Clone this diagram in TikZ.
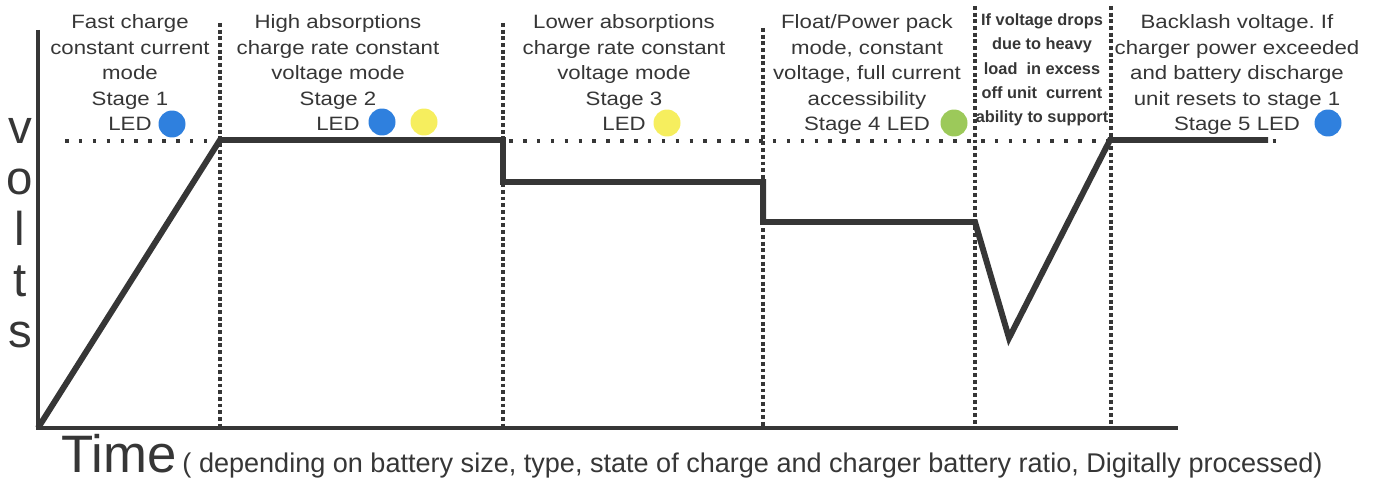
\documentclass[tikz,border=0pt]{standalone}
\usepackage{fontspec}
\setmainfont{Liberation Sans}
\newfontfamily\widefont{Liberation Sans}[FakeStretch=1.15]
\usepackage{tikz}
\usetikzlibrary{positioning}

\definecolor{ink}{HTML}{363636}
\definecolor{ledblue}{HTML}{2F80DE}
\definecolor{ledyellow}{HTML}{F6EE5E}
\definecolor{ledgreen}{HTML}{9CC95A}

\begin{document}
\begin{tikzpicture}[x=0.02cm, y=-0.02cm,
  stagetext/.style={anchor=north, inner sep=0pt, align=center, text=ink, font=\widefont\fontsize{11}{14.6}\selectfont},
  boldtext/.style={anchor=north, inner sep=0pt, align=center, text=ink, font=\bfseries\fontsize{9.3}{13.9}\selectfont},
  led/.style={circle, minimum size=0.54cm, inner sep=0pt},
  guide/.style={ink, line width=2pt, dash pattern=on 2.2pt off 1.6pt},
  level/.style={ink, line width=2pt, dash pattern=on 2pt off 5.9pt},
  axis/.style={ink, line width=2.3pt},
  trace/.style={ink, line width=3.4pt}]
\useasboundingbox (0,0) rectangle (1381,483);

% axes
\coordinate (ytop) at (38,30);
\coordinate (origin) at (38,428);
\coordinate (xend) at (1178,428);

% stage borders and full charge level
\foreach \x/\t in {220/23, 503/23, 763/28, 975/6, 1111/6}
  \draw[guide] (\x,\t) -- (\x,428);
\draw[level] (65,141) -- (1282,141);

\draw[axis] (ytop) -- (origin) -- (xend);

% charge curve
\draw[trace] (origin) -- (220,140) -- (503,140) -- (503,182) -- (763,182)
  -- (763,222) -- (975,222) -- (1009,338) -- (1110,140) -- (1268,140);

% stage texts
\node[stagetext] (stage1) at (130,14) {Fast charge\\constant current\\mode\\Stage 1\\LED};
\node[stagetext] (stage2) at (338,14) {High absorptions\\charge rate constant\\voltage mode\\Stage 2\\LED};
\node[stagetext] (stage3) at (624,14) {Lower absorptions\\charge rate constant\\voltage mode\\Stage 3\\LED};
\node[stagetext] (stage4) at (867,14) {Float/Power pack\\mode, constant\\voltage, full current\\accessibility\\Stage 4 LED};
\node[boldtext] (drop) at (1042,13) {If voltage drops\\due to heavy\\load\ \ in excess\\off unit\ \ current\\ability to support};
\node[stagetext] (stage5) at (1237,14) {Backlash voltage.\ If\\charger power exceeded\\and battery discharge\\unit resets to stage 1\\Stage 5 LED};

% LEDs
\node[led, fill=ledblue] (led1) at (172,124) {};
\node[led, fill=ledblue] (led2b) at (382,122) {};
\node[led, fill=ledyellow] (led2y) at (424,122) {};
\node[led, fill=ledyellow] (led3) at (667,123) {};
\node[led, fill=ledgreen] (led4) at (954,123) {};
\node[led, fill=ledblue] (led5) at (1328,123) {};

% axis labels
\node[anchor=north, inner sep=0pt, align=center, text=ink, font=\fontsize{27}{29}\selectfont] (volts) at (20,118) {v\\o\\l\\t\\s};
\node[anchor=base west, inner sep=0pt, text=ink, font=\fontsize{30}{31}\selectfont] (time) at (61,472) {Time};
\node[anchor=base west, inner sep=0pt, text=ink, font=\fontsize{15.4}{17}\selectfont] (note) at ([xshift=3pt]time.base east) {( depending on battery size, type, state of charge and charger battery ratio, Digitally processed)};
\end{tikzpicture}
\end{document}
